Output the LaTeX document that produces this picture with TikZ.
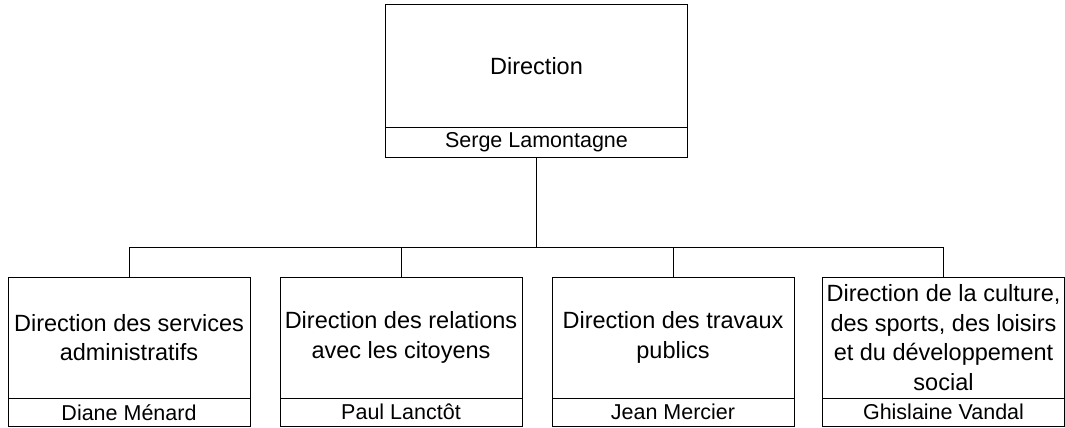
\documentclass[tikz,border=0pt]{standalone}
\usepackage{fontspec}
\setmainfont{Liberation Sans}
\usetikzlibrary{positioning}

\tikzset{
  unitbox/.style={draw=black, line width=1pt, outer sep=0pt, inner sep=1pt, align=center,
    font=\fontsize{23.5}{29.6}\selectfont},
  headbox/.style={unitbox, minimum width=302pt, minimum height=122pt},
  deptbox/.style={unitbox, minimum width=242pt, minimum height=121pt},
  namebox/.style={draw=black, line width=1pt, outer sep=0pt, inner sep=0pt,
    font=\fontsize{21.5}{24}\selectfont},
  headname/.style={namebox, minimum width=302pt, minimum height=30pt},
  deptname/.style={namebox, minimum width=242pt, minimum height=28.5pt},
  trunk/.style={draw=black, line width=1.9pt},
  branch/.style={draw=black, line width=1pt}
}

\begin{document}
\begin{tikzpicture}[x=1pt, y=-1pt]
  \useasboundingbox (0,0) rectangle (1065,428);      % frame of the chart

  \node [headbox] (dir) at (536.5,66) {Direction};             % top unit
  \node [headname, below=0pt of dir] (dirname) {Serge Lamontagne}; % its head

  \node [deptbox] (dsa) at (129,337.5) {Direction des services\\administratifs};
  \node [deptname, below=0pt of dsa] (dsaname) {Diane Ménard};
  \node [deptbox] (drc) at (401,337.5) {Direction des relations\\avec les citoyens};
  \node [deptname, below=0pt of drc] (drcname) {Paul Lanctôt};
  \node [deptbox] (dtp) at (673,337.5) {Direction des travaux\\publics};
  \node [deptname, below=0pt of dtp] (dtpname) {Jean Mercier};
  \node [deptbox] (dcs) at (943.5,337.5) {Direction de la culture,\\des sports, des loisirs\\et du développement\\social};
  \node [deptname, below=0pt of dcs] (dcsname) {Ghislaine Vandal};

  \coordinate (hub) at (536.5,247);                 % where the bar meets the trunk
  \draw [trunk] (dirname.south) -- (hub);           % trunk from the top unit
  \draw [branch] (hub) -| (dsa.north);              % branch to each unit
  \draw [branch] (hub) -| (drc.north);
  \draw [branch] (hub) -| (dtp.north);
  \draw [branch] (hub) -| (dcs.north);
\end{tikzpicture}
\end{document}
